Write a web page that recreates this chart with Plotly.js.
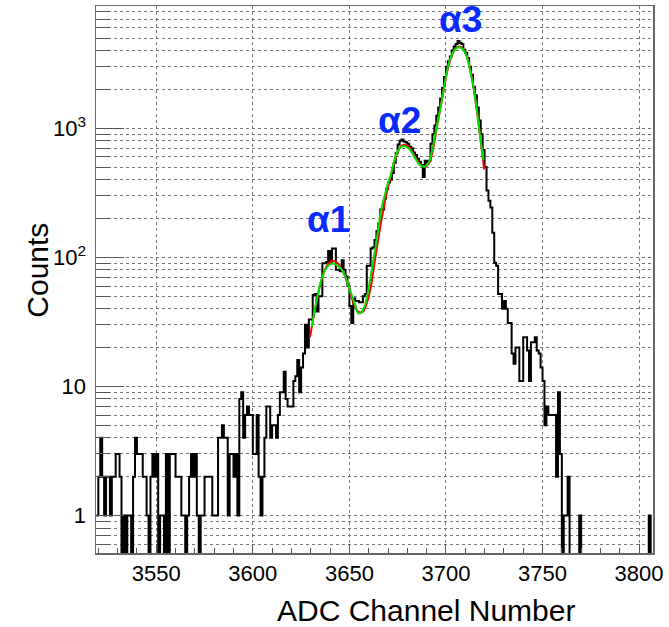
<!DOCTYPE html>
<html>
<head>
<meta charset="utf-8">
<script src="https://cdn.plot.ly/plotly-3.0.1.min.js"></script>
<style>html,body{margin:0;padding:0;background:#fff;}#chart{width:669px;height:627px;}</style>
</head>
<body>
<div id="chart"></div>
<script>
// ---- data ----
const firstChannel = 3519;   // lower edge of the first bin
const binWidth = 1;          // ADC channels per bin
const counts = [
  1,2,4,2,1,2,2,1,2,2, 3,3,2,0,1,0,1,1,0,2,
  4,3,3,3,2,2,1,0,2,3, 2,3,0,1,1,0,3,0,3,3,
  3,2,2,2,1,1,0,1,2,3, 2,3,1,0,1,1,2,2,2,2,
  1,1,1,4,4,5,4,4,1,3, 3,2,3,1,8,9,4,6,7,6,
  6,3,3,6,2,1,2,4,7,7, 4,5,5,4,6,9,9,13,8,7,
  7,7,11,12,16,9,14,18,30,20, 33,33,51,52,38,50,50,90,90,92,
  112,90,117,117,80,80,78,95,80,71, 60,42,31,48,46,46,45,45,50,52,
  86,86,117,120,136,160,183,235,235,286, 340,380,400,450,540,640,750,800,820,790,
  780,760,720,700,650,620,580,550,520,420, 560,540,560,760,900,1050,1250,1450,1700,2050,
  2500,3000,3300,3600,4000,4300,4500,4750,4600,4500, 4050,3850,3500,3000,2600,2100,1800,1450,1150,900,
  680,500,330,275,243,155,91,86,52,52, 40,46,40,31,31,18,15,20,20,11,
  11,24,24,19,11,22,22,24,19,18, 14,11,5,7,6,6,6,6,2,9,
  3,0,1,1,2,0,0,0,0,0, 1,0,0,0,0,0,0,0,0,0,
  0,0,0,0,0,0,0,0,0,0, 0,0,0,0,0,0,0,0,0,0,
  0,0,0,0,0,0,1,0
];
// green fit curve (channel, counts)
const greenX = [3630.5,3633.1,3635.7,3638.3,3640.9,3643.5,3646.1,3648.6,3651.2,3653.0,3654.7,3656.4,3658.1,3659.9,3661.6,3663.3,3665.1,3666.8,3668.5,3670.2,3671.1,3672.8,3674.5,3676.3,3678.4,3680.6,3682.3,3684.1,3685.8,3687.5,3689.2,3691.0,3692.7,3694.4,3696.1,3697.9,3699.6,3701.3,3703.0,3704.8,3706.8,3709.1,3710.8,3712.5,3714.3,3716.0,3717.7,3719.5];
const greenY = [29,46.7,68.7,83.9,89.8,87,80,66.3,51.1,42.7,36.7,37.9,42.7,57.3,80,113.6,172,246,310,385,420,533,640,710,725,700,650,585,533,510,505,540,660,890,1200,1650,2350,3100,3700,4100,4250,4040,3600,2800,2040,1400,860,565];
// red fit curve
const redX = [3629.6,3632,3635,3638,3641,3644,3647,3649.5,3652,3654.5,3657,3659,3661,3663,3665,3667,3669,3671,3673,3675,3677,3679,3681,3683,3685,3687,3689,3691,3693,3695,3697,3699,3701,3703,3705,3707,3709,3711,3713,3715,3717,3719,3719.8];
const redY = [24,38,62,84,94,90,76,60,45,38,38,44,58,90,140,210,300,400,530,650,730,745,710,640,570,520,505,530,650,960,1400,2050,2900,3650,4150,4300,4100,3550,2650,1750,1050,600,480];
// tick labels
const xTickVals = [3550,3600,3650,3700,3750,3800];
const yTickVals = [1,10,100,1000];
const yTickText = ['1','10','10<sup>2</sup>','10<sup>3</sup>'];
const peakLabels = ['α1','α2','α3'];
const peakLabelX = [3639.3,3676.0,3707.5];
const peakLabelY = [195,1140,6900];

// ---- build step histogram (empty bins drop below the axis floor) ----
const edges = [], stepY = [];
for (let i = 0; i < counts.length; i++) {
  edges.push(firstChannel + i * binWidth);
  stepY.push(counts[i] > 0 ? counts[i] : 0.3);
}
edges.push(firstChannel + counts.length * binWidth);
stepY.push(stepY[stepY.length - 1]);

// minor gridlines for log axis
const yMinor = [];
[0.1,1,10,100,1000].forEach(d => { for (let m = 2; m <= 9; m++) yMinor.push(m * d); });

const FONT = 'Liberation Sans, Arial, Helvetica, sans-serif';
const traces = [
  {x: edges, y: stepY, type: 'scatter', mode: 'lines', line: {shape: 'hv', color: '#000', width: 2}, hoverinfo: 'skip'},
  {x: redX, y: redY, type: 'scatter', mode: 'lines', line: {shape: 'spline', color: '#ff0000', width: 2}, hoverinfo: 'skip'},
  {x: greenX, y: greenY, type: 'scatter', mode: 'lines', line: {shape: 'spline', color: '#00e000', width: 2}, hoverinfo: 'skip'}
];

const annotations = peakLabels.map((t, i) => ({
  text: '<b>' + t + '</b>', x: peakLabelX[i], y: Math.log10(peakLabelY[i]), xref: 'x', yref: 'y',
  showarrow: false, font: {family: FONT, size: 37, color: '#0a2bff'}
}));
annotations.push({text: 'ADC Channel Number', xref: 'paper', yref: 'paper', x: 0.593, y: -0.106,
  xanchor: 'center', yanchor: 'middle', showarrow: false, font: {family: FONT, size: 30, color: '#000'}});
annotations.push({text: 'Counts', xref: 'paper', yref: 'paper', x: -0.105, y: 0.517, textangle: -90,
  xanchor: 'center', yanchor: 'middle', showarrow: false, font: {family: FONT, size: 30, color: '#000'}});

const layout = {
  width: 669, height: 627,
  margin: {l: 96, r: 16, t: 6, b: 74},
  paper_bgcolor: '#fff', plot_bgcolor: '#fff',
  showlegend: false,
  font: {family: FONT, color: '#000'},
  xaxis: {
    range: [3518.8, 3807.2], tickmode: 'array', tickvals: xTickVals,
    ticks: 'inside', ticklen: 9, tickwidth: 1, tickcolor: '#555',
    showgrid: true, gridcolor: '#777', griddash: 'dot', gridwidth: 1,
    showline: true, mirror: true, linecolor: '#666', linewidth: 1.5, zeroline: false,
    tickfont: {family: FONT, size: 22, color: '#000'},
    minor: {tickmode: 'linear', tick0: 3550, dtick: 10, ticks: 'inside', ticklen: 5, tickcolor: '#555', showgrid: false}
  },
  yaxis: {
    type: 'log', range: [-0.29, 3.947], tickmode: 'array', tickvals: yTickVals, ticktext: yTickText,
    ticks: 'inside', ticklen: 28, tickwidth: 1, tickcolor: '#555',
    showgrid: true, gridcolor: '#777', griddash: 'dot', gridwidth: 1,
    showline: true, mirror: true, linecolor: '#666', linewidth: 1.5, zeroline: false,
    tickfont: {family: FONT, size: 22, color: '#000'}, ticklabelstandoff: 4,
    minor: {tickmode: 'array', tickvals: yMinor, ticks: 'inside', ticklen: 14, tickcolor: '#555',
      showgrid: true, gridcolor: '#777', griddash: 'dot', gridwidth: 1}
  },
  annotations: annotations
};
Plotly.newPlot('chart', traces, layout, {staticPlot: true, displayModeBar: false});
</script>
</body>
</html>
